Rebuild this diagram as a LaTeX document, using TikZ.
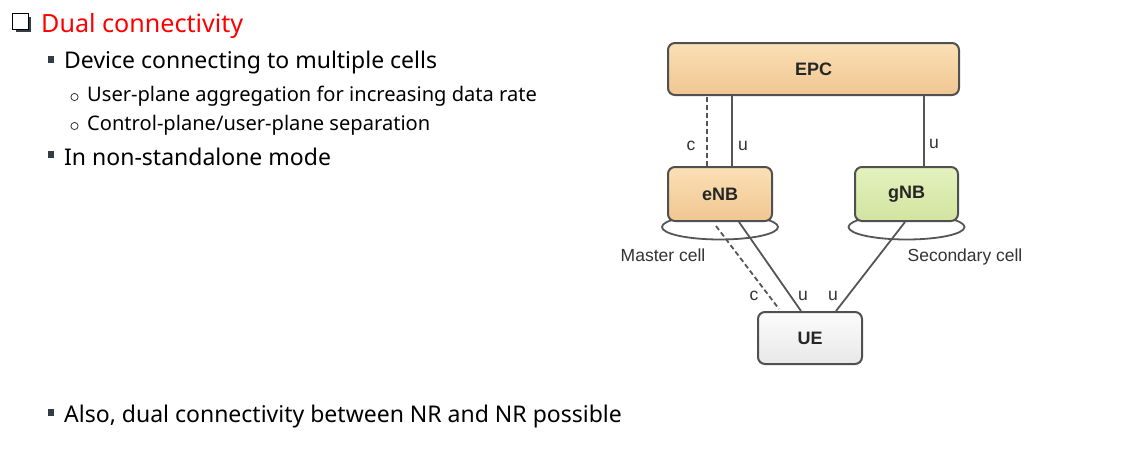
\documentclass[tikz,border=0pt]{standalone}
\usepackage{fontspec}
\setmainfont{Noto Sans}
\newfontfamily\diagfont{Liberation Sans}
\begin{document}
\begin{tikzpicture}[x=1pt,y=-1pt,
  bodytext/.style={anchor=base west,inner sep=0pt,font=\fontsize{23}{27}\selectfont},
  subtext/.style={anchor=base west,inner sep=0pt,font=\fontsize{20.1}{24}\selectfont},
  sqbullet/.style={fill=bulletcol,draw=none},
  circbullet/.style={draw=black!80,line width=0.8pt,fill=none},
  netbox/.style={draw=boxborder,line width=2pt,rounded corners=7pt,inner sep=0pt,
    font=\diagfont\bfseries\fontsize{18}{21}\selectfont,text=black!85},
  lbl/.style={inner sep=0pt,anchor=base,font=\diagfont\fontsize{17.5}{20}\selectfont,text=black!80},
  link/.style={draw=linecol,line width=1.8pt},
  ctrl/.style={draw=linecol,line width=1.8pt,dash pattern=on 5pt off 3pt},
  cell/.style={draw=linecol,line width=1.8pt}
]
\definecolor{bulletcol}{RGB}{52,60,70}
\definecolor{boxborder}{RGB}{80,80,80}
\definecolor{linecol}{RGB}{85,85,85}
\definecolor{orangetop}{RGB}{251,224,182}
\definecolor{orangebot}{RGB}{240,198,145}
\definecolor{greentop}{RGB}{228,242,190}
\definecolor{greenbot}{RGB}{210,228,160}
\definecolor{greytop}{RGB}{252,252,252}
\definecolor{greybot}{RGB}{232,232,232}
\useasboundingbox[fill=white] (0,0) rectangle (1127,456);

% checkbox heading
\fill[bulletcol] (15.5,16.5) rectangle (31,32);
\draw[fill=white,line width=1.4pt] (12.5,13.5) rectangle (28.5,29.5);
\node[anchor=base west,inner sep=0pt,text=red,font=\fontsize{25.1}{30}\selectfont] (title) at (41,32) {Dual connectivity};

% bullets
\fill[sqbullet] (48,56) rectangle (54,63);
\node[bodytext] (b1) at (64,68) {Device connecting to multiple cells};
\draw[circbullet] (74.5,97) circle (3.6);
\node[subtext] (s1) at (87,101) {User-plane aggregation for increasing data rate};
\draw[circbullet] (74.5,126) circle (3.6);
\node[subtext] (s2) at (87,130) {Control-plane/user-plane separation};
\fill[sqbullet] (48,151) rectangle (54,158);
\node[bodytext] (b2) at (64,165) {In non-standalone mode};
\fill[sqbullet] (48,409) rectangle (54,416);
\node[bodytext] (b3) at (64,422) {Also, dual connectivity between NR and NR possible};

% cells (ellipses, partly hidden by boxes)
\draw[cell] (720,227) ellipse [x radius=58,y radius=12.5];
\draw[cell] (906.5,227) ellipse [x radius=58,y radius=12.5];

% boxes
\node[netbox,top color=orangetop,bottom color=orangebot,minimum width=291pt,minimum height=52pt] (epc) at (813.5,69) {EPC};
\node[netbox,top color=orangetop,bottom color=orangebot,minimum width=104pt,minimum height=54pt] (enb) at (720,194) {eNB};
\node[netbox,top color=greentop,bottom color=greenbot,minimum width=103pt,minimum height=54pt] (gnb) at (906.5,194) {gNB};
\node[netbox,top color=greytop,bottom color=greybot,minimum width=104pt,minimum height=52pt] (ue) at (810,338) {UE};

% EPC - eNB / gNB
\draw[ctrl] ([xshift=40pt]enb.north west) -- ([xshift=40pt]enb.north west |- epc.south);
\draw[link] ([xshift=65pt]enb.north west) -- ([xshift=65pt]enb.north west |- epc.south);
\draw[link] ([xshift=17.5pt]gnb.north) -- ([xshift=17.5pt]gnb.north |- epc.south);

% radio links
\coordinate (cstart) at ([xshift=49pt,yshift=-4pt]enb.south west);
\coordinate (cend) at ([xshift=22pt,yshift=2pt]ue.north west);
\draw[ctrl] (cstart) -- (cend);
\draw[link] ([xshift=72pt]enb.south west) -- ([xshift=44pt]ue.north west);
\draw[link] ([xshift=-1.5pt]gnb.south) -- ([xshift=79pt]ue.north west);

% labels
\node[lbl] (lc1) at (691,150) {c};
\node[lbl] (lu1) at (743,150) {u};
\node[lbl] (lu2) at (934,148) {u};
\node[lbl] (lc2) at (754,300) {c};
\node[lbl] (lu3) at (803,300) {u};
\node[lbl] (lu4) at (833,300) {u};
\node[lbl] (master) at (663,261) {Master cell};
\node[lbl] (second) at (965,261) {Secondary cell};
\end{tikzpicture}
\end{document}
